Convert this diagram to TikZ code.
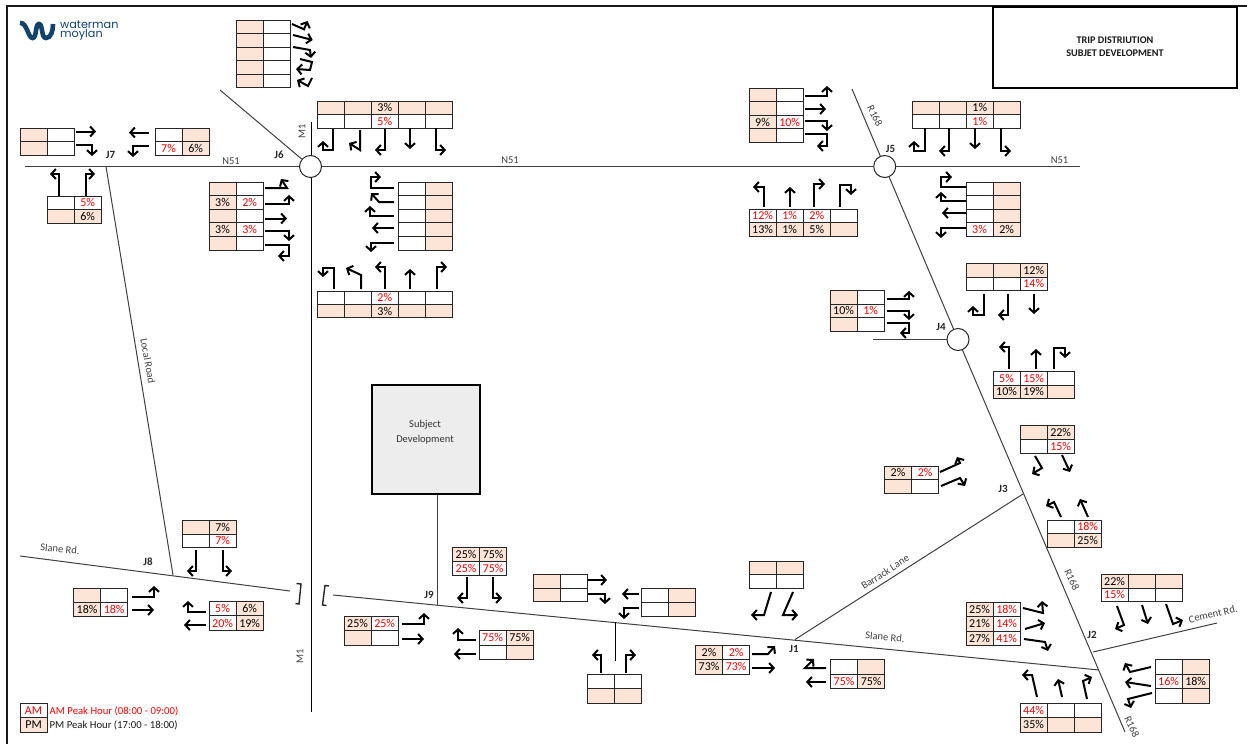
\documentclass[tikz,border=0pt]{standalone}
\usepackage{fontspec}
\setmainfont{Carlito}
\newfontfamily\logofont{Poppins}
\usetikzlibrary{arrows.meta}
\definecolor{peach}{HTML}{FCE4D6}
\definecolor{roadgray}{HTML}{404040}
\definecolor{labelgray}{HTML}{404040}
\definecolor{navy}{HTML}{12436D}
\definecolor{subjgray}{HTML}{EDEDED}
\tikzset{
  cellp/.style={fill=peach,text=black},
  cellw/.style={fill=white,text=red},
  cellbase/.style={draw=black!85,line width=1pt,inner sep=0pt,outer sep=0pt,anchor=north west,
    minimum width=27.1pt,font=\fontsize{12}{12}\selectfont},
  arr/.style={line width=2pt,black,-{Straight Barb[length=4.5pt,width=10pt,line width=2pt]}},
  road/.style={line width=1pt,roadgray},
  blackroad/.style={line width=1pt,black},
  jct/.style={circle,draw=black!85,fill=white,line width=1pt,minimum size=22pt,inner sep=0pt},
  jlabel/.style={font=\bfseries\fontsize{11}{11}\selectfont,text=black!85,inner sep=0pt},
  rlabel/.style={font=\fontsize{10.5}{10.5}\selectfont,text=labelgray,inner sep=0pt},
}
% \tbl{name}{x}{y}{row height}{rows}
\newcommand{\tbl}[5]{%
  \foreach \rowspec [count=\ri] in {#5}{%
    \foreach \f/\t [count=\ci] in \rowspec{%
      \node[cellbase,cell\f,minimum height=#4pt] (#1-\ri-\ci)
        at ({#2+(\ci-1)*27.1},{#3+(\ri-1)*#4}) {\t};
    }%
  }%
}
\begin{document}
\begin{tikzpicture}[x=1pt,y=-1pt]
\useasboundingbox (0,0) rectangle (1247,744);
\fill[white] (0,0) rectangle (1247,744);
% frame
\draw[line width=2pt,black!90] (7,744) -- (7,6) -- (1247,6);
\node[draw=black,line width=2pt,fill=white,minimum width=244pt,minimum height=81pt,inner sep=0pt,anchor=north west] (title) at (992,6) {};
\node[font=\bfseries\fontsize{10.2}{10.2}\selectfont,text=black!90,inner sep=0pt] (t1) at (1115,40) {TRIP DISTRIUTION};
\node[font=\bfseries\fontsize{10.2}{10.2}\selectfont,text=black!90,inner sep=0pt] (t2) at (1115,53) {SUBJET DEVELOPMENT};
% logo
\draw[navy,line width=4.6pt] (20,23) .. controls (27,22) and (28,38) .. (32.5,38) .. controls (37,38) and (35,24) .. (39,24) .. controls (43,24) and (41,38) .. (46,38) .. controls (51,38) and (53,31) .. (53,24);
\node[font=\logofont\fontsize{11.2}{11.2}\selectfont,text=navy,anchor=west,inner sep=0pt] (logo1) at (60,25) {waterman};
\node[font=\logofont\fontsize{11.2}{11.2}\selectfont,text=navy,anchor=west,inner sep=0pt] (logo2) at (60,34.5) {moylan};
% junctions
\node[jct] (J6) at (310.5,166.5) {};
\node[jct] (J5) at (884.7,166.5) {};
\node[jct] (J4) at (958,339.5) {};
% free road ends
\coordinate (n51w) at (25,166.5);
\coordinate (n51e) at (1080,166.5);
\coordinate (m1n) at (311.5,122);
\coordinate (m1s) at (311.5,712);
\coordinate (diag) at (220,90);
\coordinate (lrn) at (106,166.5);
\coordinate (lrs) at (173,575);
\coordinate (slw1) at (20,556);
\coordinate (slw2) at (290,591);
\coordinate (sle1) at (333,595);
\coordinate (sle2) at (1099,670);
\coordinate (j9a) at (437.5,494);
\coordinate (j9b) at (437.5,605);
\coordinate (tja) at (615.3,622);
\coordinate (tjb) at (615.3,661);
\coordinate (brk1) at (795,639.5);
\coordinate (brk2) at (1023,494);
\coordinate (rnn) at (852,89);
\coordinate (rss) at (1125,732);
\coordinate (j4w) at (873,339.5);
\coordinate (cem1) at (1093,652);
\coordinate (cem2) at (1217,623);
% roads
\draw[road] (n51w) -- (J6);
\draw[road] (J6) -- (J5);
\draw[road] (J5) -- (n51e);
\draw[blackroad] (m1n) -- (J6.north -| m1n);
\draw[blackroad] (J6.south -| m1s) -- (m1s);
\draw[road] (diag) -- (J6);
\draw[road] (lrn) -- (lrs);
\draw[road] (slw1) -- (slw2);
\draw[road] (sle1) -- (sle2);
\draw[road] (j9a) -- (j9b);
\draw[blackroad] (tja) -- (tjb);
\draw[road] (brk1) -- (brk2);
\draw[road] (rnn) -- (J5);
\draw[road] (J5) -- (J4);
\draw[road] (J4) -- (rss);
\draw[road] (j4w) -- (J4);
\draw[road] (cem1) -- (cem2);
% breaks
\draw[line width=1.4pt,black!85] (296.5,583.5) -- (301,584) -- (299,604) -- (295.5,603.5);
\draw[line width=1.4pt,black!85] (329,586) -- (325,585.5) -- (322.5,605) -- (326.5,605.5);
% subject box
\node[draw=black,fill=subjgray,line width=1.8pt,minimum width=108pt,minimum height=109pt,inner sep=0pt,anchor=north west] (subject) at (371,384) {};
\node[font=\fontsize{10.5}{10.5}\selectfont,text=black!80,inner sep=0pt] (s1) at (425,425) {Subject};
\node[font=\fontsize{10.5}{10.5}\selectfont,text=black!80,inner sep=0pt] (s2) at (425,439.5) {Development};
% tables
\tbl{tA}{236}{20}{13.5}{{p/,w/},{p/,w/},{p/,w/},{p/,w/},{p/,w/}}
\tbl{tB}{317}{101}{13.6}{{p/,p/,p/3\%,p/,p/},{w/,w/,w/5\%,w/,w/}}
\tbl{tC}{20}{128}{13.6}{{p/,w/},{p/,w/}}
\tbl{tD}{155}{128}{13.6}{{w/,p/},{w/7\%,p/6\%}}
\tbl{tE}{47}{196}{13.6}{{w/,w/5\%},{p/,p/6\%}}
\tbl{tF}{209}{182}{13.6}{{p/,w/},{p/3\%,w/2\%},{p/,w/},{p/3\%,w/3\%},{p/,w/}}
\tbl{tG}{398}{182}{13.6}{{w/,p/},{w/,p/},{w/,p/},{w/,p/},{w/,p/}}
\tbl{tH}{317}{291}{13.4}{{w/,w/,w/2\%,w/,w/},{p/,p/,p/3\%,p/,p/}}
\tbl{tI}{749}{88}{13.6}{{p/,w/},{p/,w/},{p/9\%,w/10\%},{p/,w/}}
\tbl{tJ}{912}{101}{13.6}{{p/,p/,p/1\%,p/},{w/,w/,w/1\%,w/}}
\tbl{tK}{966}{182}{13.6}{{w/,p/},{w/,p/},{w/,p/},{w/3\%,p/2\%}}
\tbl{tL}{749}{209}{13.6}{{w/12\%,w/1\%,w/2\%,w/},{p/13\%,p/1\%,p/5\%,p/}}
\tbl{tM}{966}{263.5}{13.6}{{p/,p/,p/12\%},{w/,w/,w/14\%}}
\tbl{tN}{830}{290.5}{13.6}{{p/,w/},{p/10\%,w/1\%},{p/,w/}}
\tbl{tO}{993}{371.5}{13.6}{{w/5\%,w/15\%,w/},{p/10\%,p/19\%,p/}}
\tbl{tP}{1020}{425.5}{13.8}{{p/,p/22\%},{w/,w/15\%}}
\tbl{tQ}{884.5}{466}{13.6}{{p/2\%,w/2\%},{p/,w/}}
\tbl{tR}{1047}{520}{13.6}{{w/,w/18\%},{p/,p/25\%}}
\tbl{tS}{1101}{574.5}{13.6}{{p/22\%,p/,p/},{w/15\%,w/,w/}}
\tbl{tT}{966}{602}{14.5}{{p/25\%,w/18\%},{p/21\%,w/14\%},{p/27\%,w/41\%}}
\tbl{tU}{1155}{659.5}{14.6}{{w/,p/},{w/16\%,p/18\%},{w/,p/}}
\tbl{tV}{1020}{703}{14.5}{{w/44\%,w/,w/},{p/35\%,p/,p/}}
\tbl{tW}{830.5}{659.5}{14.6}{{w/,p/},{w/75\%,p/75\%}}
\tbl{tX}{749.5}{561}{13.8}{{p/,p/},{w/,w/}}
\tbl{tY}{695.5}{645}{14.5}{{p/2\%,w/2\%},{p/73\%,w/73\%}}
\tbl{tZ}{452.5}{547.5}{13.8}{{p/25\%,p/75\%},{w/25\%,w/75\%}}
\tbl{ua}{344}{616}{14.6}{{p/25\%,w/25\%},{p/,w/}}
\tbl{ub}{479}{630.5}{14.6}{{w/75\%,p/75\%},{w/,p/}}
\tbl{uc}{533.5}{574.5}{13.6}{{p/,w/},{p/,w/}}
\tbl{ud}{641.5}{588}{14}{{w/,p/},{w/,p/}}
\tbl{ue}{587.5}{674}{14.6}{{w/,w/},{p/,p/}}
\tbl{uf}{182}{520.5}{13.6}{{p/,p/7\%},{w/,w/7\%}}
\tbl{ug}{73.5}{588}{14}{{p/,w/},{p/18\%,w/18\%}}
\tbl{uh}{209}{601.5}{14.4}{{w/5\%,p/6\%},{w/20\%,p/19\%}}
\tbl{leg}{20}{703}{14.6}{{w/AM}}
\node[cellbase,cellp,minimum height=14.6pt] (leg-2-1) at (20,717.6) {PM};
\node[anchor=west,inner sep=0pt,text=red,font=\fontsize{10.7}{10.7}\selectfont] (legam) at (49.5,711) {AM Peak Hour (08:00 - 09:00)};
\node[anchor=west,inner sep=0pt,text=black!90,font=\fontsize{10.7}{10.7}\selectfont] (legpm) at (49.5,725) {PM Peak Hour (17:00 - 18:00)};
% labels
\node[jlabel] (lJ7) at (110.5,155) {J7};
\node[jlabel] (lJ6) at (279,155) {J6};
\node[jlabel] (lJ5) at (890.5,149) {J5};
\node[jlabel] (lJ4) at (941,327) {J4};
\node[jlabel] (lJ3) at (1003,489) {J3};
\node[jlabel] (lJ2) at (1092,635) {J2};
\node[jlabel] (lJ1) at (794,649) {J1};
\node[jlabel] (lJ9) at (429,595) {J9};
\node[jlabel] (lJ8) at (148,562) {J8};
\node[rlabel] (n1) at (231,161) {N51};
\node[rlabel] (n2) at (510,160) {N51};
\node[rlabel] (n3) at (1059.5,160) {N51};
\node[rlabel,rotate=90] (m1) at (302,131) {M1};
\node[rlabel,rotate=90] (m2) at (300,656) {M1};
\node[rlabel,rotate=-63] (r1) at (875,116) {R168};
\node[rlabel,rotate=-65] (r2) at (1072,580) {R168};
\node[rlabel,rotate=-65] (r3) at (1132,727) {R168};
\node[rlabel,rotate=-80] (lr) at (148,361) {Local Road};
\node[rlabel,rotate=-5] (sl1) at (60,549) {Slane Rd.};
\node[rlabel,rotate=-5] (sl2) at (885,637) {Slane Rd.};
\node[rlabel,rotate=33] (bl) at (885,572) {Barrack Lane};
\node[rlabel,rotate=13] (cr) at (1213,614) {Cement Rd.};
% arrows: J6 north arm side
\draw[arr] (292,24) -- (304,29.3) -- (307.5,21);
\draw[arr] (293,35) -- (312.7,40);
\draw[arr] (293,47) -- (310,50) -- (311,58);
\draw[arr] (300,59) -- (312,62) -- (310,70) -- (296,69);
\draw[arr] (312,78) -- (308,86) -- (297,80);
% J6 N
\draw[arr] (333,129) -- (333,150) -- (323,150) -- (323,141);
\draw[arr] (360,130) -- (360,150) -- (349,143);
\draw[arr] (385,129) -- (385,150) -- (375,150);
\draw[arr] (410,128) -- (410,149);
\draw[arr] (436,128) -- (436,150) -- (446,150);
% J7
\draw[arr] (76,131.5) -- (96,131.5);
\draw[arr] (76,145) -- (92,145) -- (92,156);
\draw[arr] (149,132.5) -- (129,132.5);
\draw[arr] (149,146) -- (133,146) -- (133,157);
\draw[arr] (59,196) -- (59,174) -- (50,174);
\draw[arr] (86,196) -- (86,174) -- (95,174);
% J6 W
\draw[arr] (265,188) -- (287,188) -- (281,179);
\draw[arr] (265,203.5) -- (289,203.5) -- (289,195);
\draw[arr] (265,218.5) -- (287,218.5);
\draw[arr] (265,230.5) -- (289,230.5) -- (289,241);
\draw[arr] (265,245) -- (289,245) -- (289,256) -- (278,256);
% J6 E
\draw[arr] (394,188) -- (371,188) -- (371,177) -- (381,177);
\draw[arr] (394,202) -- (379,202) -- (371,193);
\draw[arr] (394,215.5) -- (370,215.5) -- (370,206);
\draw[arr] (394,228) -- (372,228);
\draw[arr] (394,243) -- (371,243) -- (371,252);
% J6 S
\draw[arr] (334,289) -- (334,268) -- (323,268) -- (323,277);
\draw[arr] (361,289) -- (361,275) -- (346,268);
\draw[arr] (385,289) -- (385,267) -- (375,267);
\draw[arr] (410,289) -- (410,269);
\draw[arr] (437,289) -- (437,267) -- (447,267);
% J5 W
\draw[arr] (805,96) -- (827,96) -- (827,86);
\draw[arr] (805,109) -- (826,109);
\draw[arr] (805,121) -- (827,121) -- (827,131);
\draw[arr] (805,134) -- (827,134) -- (827,146) -- (817,146);
% J5 N
\draw[arr] (925,128) -- (925,151) -- (914,151) -- (914,141);
\draw[arr] (949,128) -- (949,151) -- (939,151);
\draw[arr] (975,128) -- (975,149);
\draw[arr] (1001,128) -- (1001,151) -- (1011,151);
% J5 E
\draw[arr] (966,187) -- (941,187) -- (941,177) -- (952,177);
\draw[arr] (966,201) -- (941,201) -- (941,192);
\draw[arr] (966,213) -- (942,213);
\draw[arr] (966,228) -- (941,228) -- (941,238);
% J5 S
\draw[arr] (764,207) -- (764,187) -- (753,187);
\draw[arr] (790,207) -- (790,187);
\draw[arr] (814,207) -- (814,184) -- (825,184);
\draw[arr] (840,207) -- (840,185) -- (851,185) -- (851,195);
% J4
\draw[arr] (984,294) -- (984,315) -- (973,315) -- (973,306);
\draw[arr] (1008,294) -- (1008,315) -- (998,315);
\draw[arr] (1034,294) -- (1034,314);
\draw[arr] (887,299) -- (909,299) -- (909,291);
\draw[arr] (887,311) -- (909,311) -- (909,320);
\draw[arr] (887,323) -- (909,323) -- (909,333) -- (900,333);
\draw[arr] (1009,369) -- (1009,347) -- (999,347);
\draw[arr] (1036,369) -- (1036,349);
\draw[arr] (1054,369) -- (1054,348) -- (1065,348) -- (1065,358);
% J3
\draw[arr] (1035,456) -- (1042,468) -- (1032,474);
\draw[arr] (1062,455) -- (1070,472);
\draw[arr] (940,472) -- (960,463) -- (957,457);
\draw[arr] (941,486) -- (960,478) -- (965,486);
\draw[arr] (1061,517) -- (1054,502) -- (1046,506);
\draw[arr] (1088,517) -- (1080,499);
% J2
\draw[arr] (1117,606) -- (1124,625) -- (1115,629);
\draw[arr] (1142,605) -- (1148,624);
\draw[arr] (1166,604) -- (1173,624) -- (1183,620);
\draw[arr] (1023,608) -- (1043,613) -- (1042,601);
\draw[arr] (1025,629) -- (1045,623);
\draw[arr] (1024,639) -- (1045,642) -- (1048,651);
\draw[arr] (1151,667) -- (1130,672) -- (1125,663);
\draw[arr] (1151,686) -- (1125,682);
\draw[arr] (1152,693) -- (1128,699) -- (1131,708);
\draw[arr] (1037,697) -- (1032,675) -- (1022,675);
\draw[arr] (1062,697) -- (1058,679);
\draw[arr] (1087,699) -- (1083,681) -- (1092,677);
% J1
\draw[arr] (826,668) -- (805,668) -- (814,659);
\draw[arr] (826,682) -- (806,682);
\draw[arr] (771,592) -- (764,615) -- (751,615);
\draw[arr] (793,592) -- (783,615) -- (798,615);
\draw[arr] (752,654) -- (768,654) -- (775,646);
\draw[arr] (752,668) -- (775,668);
% T junction
\draw[arr] (588,580) -- (607,580);
\draw[arr] (588,594) -- (605,594) -- (605,604);
\draw[arr] (639,594) -- (622,594);
\draw[arr] (639,608) -- (624,608) -- (624,619);
\draw[arr] (601,673) -- (601,655) -- (592,655);
\draw[arr] (626,673) -- (626,655) -- (636,655);
% J9
\draw[arr] (467,577) -- (467,598) -- (457,598);
\draw[arr] (493,577) -- (493,598) -- (502,598);
\draw[arr] (402,624) -- (424,624) -- (424,613);
\draw[arr] (402,639) -- (424,639);
\draw[arr] (476,640) -- (458,640) -- (458,628);
\draw[arr] (476,654) -- (454,654);
% J8
\draw[arr] (196,550) -- (196,571) -- (187,571);
\draw[arr] (223,550) -- (223,571) -- (232,571);
\draw[arr] (132,597) -- (154,597) -- (154,586);
\draw[arr] (132,610) -- (154,610);
\draw[arr] (206,612) -- (188,612) -- (188,601);
\draw[arr] (206,625) -- (184,625);
\end{tikzpicture}
\end{document}
